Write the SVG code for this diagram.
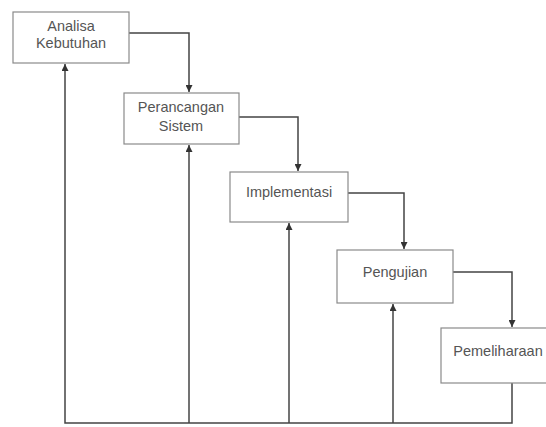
<svg xmlns="http://www.w3.org/2000/svg" width="546" height="427" viewBox="0 0 546 427">
<defs>
<marker id="ah" viewBox="0 0 10 10" refX="10" refY="5" markerWidth="7" markerHeight="7" orient="auto" markerUnits="userSpaceOnUse">
<path d="M0,0 L10,5 L0,10 z" fill="#333"/>
</marker>
<style>
.box{fill:#fff;stroke:#8a8a8a;stroke-width:1.2}
.t{font-family:"Liberation Sans",Arial,sans-serif;font-size:14.5px;fill:#555;text-anchor:middle}
.c{fill:none;stroke:#444;stroke-width:1.5}
</style>
</defs>
<rect width="546" height="427" fill="#fff"/>
<g id="connectors">
<path class="c" d="M129,33 H189 V92" marker-end="url(#ah)"/>
<path class="c" d="M239,117 H298 V171" marker-end="url(#ah)"/>
<path class="c" d="M348,193 H404 V249" marker-end="url(#ah)"/>
<path class="c" d="M453,272 H512 V327" marker-end="url(#ah)"/>
<path class="c" d="M512,383 V423 H65 V64" marker-end="url(#ah)"/>
<path class="c" d="M189,423 V145" marker-end="url(#ah)"/>
<path class="c" d="M289,423 V223" marker-end="url(#ah)"/>
<path class="c" d="M393,423 V304" marker-end="url(#ah)"/>
</g>
<g id="n1">
<rect class="box" x="13" y="12" width="116" height="51"/>
<text class="t" x="71" y="31">Analisa</text>
<text class="t" x="71" y="48">Kebutuhan</text>
</g>
<g id="n2">
<rect class="box" x="124" y="93" width="115" height="51"/>
<text class="t" x="181" y="112">Perancangan</text>
<text class="t" x="181" y="131">Sistem</text>
</g>
<g id="n3">
<rect class="box" x="230" y="172" width="118" height="50"/>
<text class="t" x="289" y="197">Implementasi</text>
</g>
<g id="n4">
<rect class="box" x="337" y="250" width="116" height="53"/>
<text class="t" x="395" y="277">Pengujian</text>
</g>
<g id="n5">
<rect class="box" x="441" y="328" width="118" height="55"/>
<text class="t" x="498" y="356">Pemeliharaan</text>
</g>
</svg>
